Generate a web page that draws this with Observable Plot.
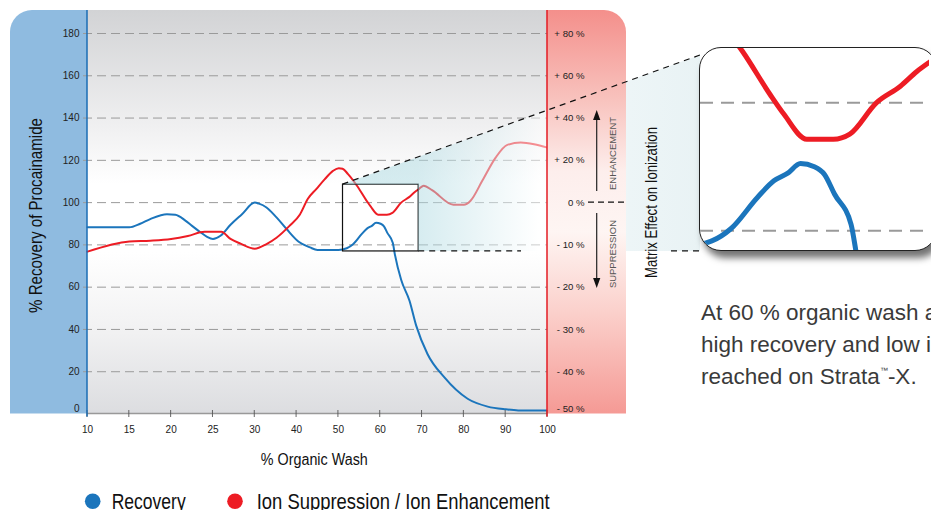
<!DOCTYPE html>
<html>
<head>
<meta charset="utf-8">
<script src="https://cdn.jsdelivr.net/npm/d3@7"></script>
<script src="https://cdn.jsdelivr.net/npm/@observablehq/plot@0.6"></script>
<style>
  html, body { margin: 0; padding: 0; background: #fff; overflow: hidden; width: 931px; height: 510px; }
  #wrap { position: relative; width: 931px; height: 510px; overflow: hidden; font-family: "Liberation Sans", Arial, sans-serif; }
  #inset { position: absolute; left: 699px; top: 47px; width: 236px; height: 202px; border: 1.5px solid #222;
    border-radius: 22px; background: #fff; overflow: hidden; box-shadow: 4px 7px 7px rgba(0,0,0,0.55); }
  #note { position: absolute; left: 701px; top: 297px; font-size: 22.5px; line-height: 32px; color: #3a3a3a; white-space: nowrap; }
  #note .tm { font-size: 8px; position: relative; top: -11px; line-height: 0; }
</style>
</head>
<body>
<div id="wrap">
  <div id="chart"></div>
  <div id="inset"></div>
  <div id="note">At 60 % organic wash an optimal balance of<br>high recovery and low ion suppression is<br>reached on Strata<span class="tm">™</span>-X.</div>
</div>
<script>
// ---------------- data ----------------
const xTicks = [10, 15, 20, 25, 30, 40, 50, 60, 70, 80, 90, 100];
const yTicks = [0, 20, 40, 60, 80, 100, 120, 140, 160, 180];
const effectTicks = [80, 60, 40, 20, 0, -10, -20, -30, -40, -50];
const effectLabels = ["+ 80 %", "+ 60 %", "+ 40 %", "+ 20 %", "0 %", "- 10 %", "- 20 %", "- 30 %", "- 40 %", "- 50 %"];
const seriesNames = ["Recovery", "Ion Suppression / Ion Enhancement"];

// % organic wash vs % recovery of procainamide (blue)
const washRecovery = [10, 15, 16.3, 17.5, 19.5, 20.5, 21.7, 22.5, 23.5, 24.3, 25, 25.9, 27.1, 28.5, 30, 31, 32.8, 35.2, 37.6, 40.5, 43.2, 45, 50, 52, 53.5, 55.6, 56.9, 58, 59, 60.1, 60.9, 61.7, 63, 63.5, 65, 67, 68.6, 71.3, 75.3, 80.9, 85.7, 90, 93, 100];
const recovery     = [88.3, 88.3, 90, 92.2, 94.5, 94.3, 91.5, 89, 86, 83.8, 82.8, 84.3, 89.5, 94.6, 100, 99.5, 97.7, 93, 87.5, 81.5, 78.8, 77.6, 77.6, 78.4, 80.3, 85.2, 87.8, 89, 90.5, 90, 88.8, 85.7, 81, 75.5, 63.5, 53.6, 41.8, 28.4, 17.4, 7.2, 3.5, 2.2, 1.7, 1.7];

// % organic wash vs matrix effect on ionization, % (red)
const washEffect = [10, 15, 17.5, 20, 22, 24, 26, 27.1, 28.3, 30, 32.8, 35.2, 38.3, 40.8, 42.7, 44.7, 46.7, 48.7, 50.1, 51, 52.3, 54.4, 56.6, 57.7, 59.5, 61.6, 62.9, 65, 66.9, 68.2, 69.3, 70.4, 72.4, 77.5, 80, 81.6, 84.4, 87.6, 90.4, 93.6, 96.8, 100];
const effect     = [-11.6, -9.2, -9, -8.6, -7.9, -6.9, -6.9, -8.6, -9.7, -10.9, -9.8, -8.3, -5.5, -2.8, 1.8, 6.4, 11, 15, 16.3, 16, 13.5, 8.1, 1.3, -0.9, -2.85, -2.85, -2.45, 0, 2.6, 4.9, 6.5, 8, 5.9, -0.5, -0.5, 0.9, 10.3, 21.3, 27.3, 28.4, 27.6, 26];

// zoomed window (shown enlarged in the inset)
const zoomWash = [51.1, 69.2];
const zoomRecovery = [76.9, 108.5];

// ---------------- layout ----------------
const W = 931, H = 510;
const mL = 87, mR = 384, mT = 33, mB = 96.5;
const panelTop = 10, panelRightEdge = 626, panelLeftEdge = 10, cornerR = 22;
const insetX = 700, insetTopHit = 55, insetBottom = 251;
const FONT = '"Liberation Sans", Arial, sans-serif';
const BLUE = "#1b75bc", RED = "#ed1c24";

const xRange = xTicks.map((d, i) => mL + i * (W - mL - mR) / (xTicks.length - 1));
// right axis is piecewise: +20 % per grid step above 0, 10 % per step below
const effToY = d3.scaleLinear().domain([-50, 0, 80]).range([0, 100, 180]);

const recRows = washRecovery.map((w, i) => ({wash: w, value: recovery[i]}));
const effRows = washEffect.map((w, i) => ({wash: w, value: effToY(effect[i])}));
const boxRows = [{x1: zoomWash[0], x2: zoomWash[1], y1: zoomRecovery[0], y2: zoomRecovery[1]}];

function grad(defs, id, stops, attrs = {x1: 0, y1: 0, x2: 0, y2: 1}) {
  const g = defs.append("linearGradient").attr("id", id);
  for (const k in attrs) g.attr(k, attrs[k]);
  for (const [o, c, a = 1] of stops) g.append("stop").attr("offset", o).attr("stop-color", c).attr("stop-opacity", a);
}

function bgMark(index, {x, y}) {
  const g = d3.create("svg:g");
  const defs = g.append("defs");
  grad(defs, "gGray", [[0, "#d2d3d5"], [0.3, "#f1f1f2"], [0.43, "#ffffff"], [0.6, "#ffffff"], [0.8, "#f1f1f2"], [1, "#dcdde0"]]);
  grad(defs, "gRed", [[0, "#f48f8b"], [0.22, "#f8c2bd"], [0.4, "#fdeeec"], [0.55, "#fef5f3"], [0.75, "#fbd0cb"], [1, "#f59a95"]]);
  const x0 = x(xTicks[0]), x1 = x(xTicks[xTicks.length - 1]), yb = y(0);
  grad(defs, "gCone", [[0, "#a8d8e0", 0.5], [0.21, "#add9e1", 0.5], [0.55, "#ffffff", 0.5], [0.8, "#ebf4f6", 0.9], [1, "#e6f1f3", 0.9]],
    {gradientUnits: "userSpaceOnUse", x1: x(zoomWash[0]), y1: 0, x2: insetX, y2: 0});
  g.append("path")
    .attr("d", `M${panelLeftEdge},${yb}V${panelTop + cornerR}A${cornerR},${cornerR} 0 0 1 ${panelLeftEdge + cornerR},${panelTop}H${x0}V${yb}Z`)
    .attr("fill", "#8fbbe0");
  g.append("rect").attr("x", x0).attr("y", panelTop).attr("width", x1 - x0).attr("height", yb - panelTop).attr("fill", "url(#gGray)");
  return g.node();
}

function coneMark(index, {x, y}) {
  const bx0 = x(zoomWash[0]), bx1 = x(zoomWash[1]), byT = y(zoomRecovery[1]);
  const g = d3.create("svg:g");
  g.append("path")
    .attr("d", `M${bx0},${byT}L${insetX},${insetTopHit}V${insetBottom}H${bx1}V${byT}Z`)
    .attr("fill", "url(#gCone)");
  return g.node();
}

function redPanelMark(index, {x, y}) {
  const x1 = x(xTicks[xTicks.length - 1]), yb = y(0);
  const g = d3.create("svg:g");
  g.append("path")
    .attr("d", `M${x1},${yb}V${panelTop}H${panelRightEdge - cornerR}A${cornerR},${cornerR} 0 0 1 ${panelRightEdge},${panelTop + cornerR}V${yb}Z`)
    .attr("fill", "url(#gRed)");
  return g.node();
}

function axisMark(index, {x, y}) {
  const x0 = x(xTicks[0]), x1 = x(xTicks[xTicks.length - 1]), yb = y(0);
  const g = d3.create("svg:g");
  g.append("line").attr("x1", x0).attr("x2", x1).attr("y1", yb).attr("y2", yb).attr("stroke", "#999").attr("stroke-width", 1.6);
  for (const t of xTicks) g.append("line").attr("x1", x(t)).attr("x2", x(t)).attr("y1", yb - 3.5).attr("y2", yb + 3.5).attr("stroke", "#555").attr("stroke-width", 0.9);
  g.append("line").attr("x1", x0).attr("x2", x0).attr("y1", panelTop).attr("y2", yb + 3).attr("stroke", "#1a6db5").attr("stroke-width", 1.5);
  g.append("line").attr("x1", x1).attr("x2", x1).attr("y1", panelTop).attr("y2", yb + 3).attr("stroke", "#e31b23").attr("stroke-width", 1.5);
  return g.node();
}

function annotationMark(index, {x, y}) {
  const g = d3.create("svg:g");
  const bx0 = x(zoomWash[0]), bx1 = x(zoomWash[1]), byT = y(zoomRecovery[1]), byB = y(zoomRecovery[0]);
  const dash = (x1, y1, x2, y2, da = "6,5", w = 1.2) =>
    g.append("line").attr("x1", x1).attr("y1", y1).attr("x2", x2).attr("y2", y2)
      .attr("stroke", "#111").attr("stroke-width", w).attr("stroke-dasharray", da);
  dash(bx0, byT, insetX, insetTopHit);
  dash(bx1, byB, 521, byB);
  dash(671, byB, insetX, byB);
  const y0 = y(effToY(0));
  dash(588, y0, panelRightEdge, y0, "6,4", 1.3);
  // arrows
  const ax = 596.7;
  g.append("line").attr("x1", ax).attr("x2", ax).attr("y1", 191).attr("y2", 118).attr("stroke", "#222").attr("stroke-width", 1.2);
  g.append("path").attr("d", `M${ax},110L${ax - 3.6},120L${ax + 3.6},120Z`).attr("fill", "#111");
  g.append("line").attr("x1", ax).attr("x2", ax).attr("y1", 213).attr("y2", 280).attr("stroke", "#222").attr("stroke-width", 1.2);
  g.append("path").attr("d", `M${ax},288L${ax - 3.6},278L${ax + 3.6},278Z`).attr("fill", "#111");
  const txt = (cx, cy, s, size, color, len, rot = true, anchor = "middle") =>
    g.append("text")
      .attr("transform", rot ? `translate(${cx},${cy}) rotate(-90)` : `translate(${cx},${cy})`)
      .attr("text-anchor", anchor).attr("dominant-baseline", rot ? "central" : "auto")
      .attr("font-size", size).attr("fill", color).attr("font-family", FONT)
      .attr("textLength", len).attr("lengthAdjust", "spacingAndGlyphs").text(s);
  txt(612.7, 153.5, "ENHANCEMENT", 9.5, "#555", 73);
  txt(612.7, 254, "SUPPRESSION", 9.5, "#555", 68);
  txt(650.7, 202.5, "Matrix Effect on Ionization", 16.5, "#111", 151);
  txt(36, 215.5, "% Recovery of Procainamide", 18, "#111", 195);
  txt(314.3, 465, "% Organic Wash", 17.3, "#111", 107, false);
  // legend
  g.append("circle").attr("cx", 92.7).attr("cy", 501.3).attr("r", 7.8).attr("fill", BLUE);
  g.append("circle").attr("cx", 235).attr("cy", 501.3).attr("r", 7.8).attr("fill", RED);
  txt(111.7, 508.7, seriesNames[0], 21.5, "#111", 74, false, "start");
  txt(256.7, 508.7, seriesNames[1], 21.5, "#111", 293, false, "start");
  return g.node();
}

const gridTicks = yTicks.filter(d => d > 0);
const chart = Plot.plot({
  width: W, height: H,
  marginLeft: mL, marginRight: mR, marginTop: mT, marginBottom: mB,
  style: {fontFamily: FONT, fontSize: "10px", background: "transparent", color: "#222", overflow: "visible"},
  x: {type: "linear", domain: xTicks, range: xRange, axis: null},
  y: {domain: [0, 180], axis: null},
  marks: [
    bgMark,
    Plot.ruleY(gridTicks, {y: d => d, stroke: "#9a9a9a", strokeWidth: 1, strokeDasharray: "9,5", insetLeft: -4}),
    Plot.line(recRows, {x: "wash", y: "value", stroke: BLUE, strokeWidth: 2, curve: "monotone-x"}),
    Plot.line(effRows, {x: "wash", y: "value", stroke: RED, strokeWidth: 2, curve: "monotone-x"}),
    Plot.rect(boxRows, {x1: "x1", x2: "x2", y1: "y1", y2: "y2", fill: "none", stroke: "#111", strokeWidth: 1.2}),
    coneMark,
    redPanelMark,
    axisMark,
    Plot.text(xTicks, {x: d => d, frameAnchor: "bottom", dy: 19, lineAnchor: "bottom", fill: "#222", fontSize: 10}),
    Plot.text(yTicks.filter(d => d > 0), {y: d => d, frameAnchor: "left", dx: -8, textAnchor: "end", fill: "#222", fontSize: 10}),
    Plot.text([0], {y: d => d, frameAnchor: "left", dx: -8, dy: -5.5, textAnchor: "end", fill: "#222", fontSize: 10}),
    Plot.text(effectTicks.slice(0, -1), {y: d => effToY(d), text: (d, i) => effectLabels[i], frameAnchor: "right", dx: 37, textAnchor: "end", fill: "#222", fontSize: 9.6}),
    Plot.text(effectTicks.slice(-1), {y: d => effToY(d), text: () => effectLabels[effectLabels.length - 1], frameAnchor: "right", dx: 37, dy: -5.5, textAnchor: "end", fill: "#222", fontSize: 9.6}),
    annotationMark
  ]
});
document.getElementById("chart").appendChild(chart);

// inset: enlarged view of the boxed window
const inset = Plot.plot({
  width: 236, height: 202,
  marginLeft: 0, marginRight: 7, marginTop: 0, marginBottom: 0,
  style: {background: "transparent", overflow: "hidden"},
  x: {domain: zoomWash, axis: null},
  y: {domain: zoomRecovery, axis: null},
  marks: [
    Plot.ruleY([80, 100], {y: d => d, stroke: "#9a9a9a", strokeWidth: 2, strokeDasharray: "13,8"}),
    Plot.line(recRows, {x: "wash", y: "value", stroke: BLUE, strokeWidth: 5, curve: "monotone-x", clip: true}),
    Plot.line(effRows, {x: "wash", y: "value", stroke: RED, strokeWidth: 5, curve: "monotone-x", clip: true})
  ]
});
document.getElementById("inset").appendChild(inset);
</script>
</body>
</html>
